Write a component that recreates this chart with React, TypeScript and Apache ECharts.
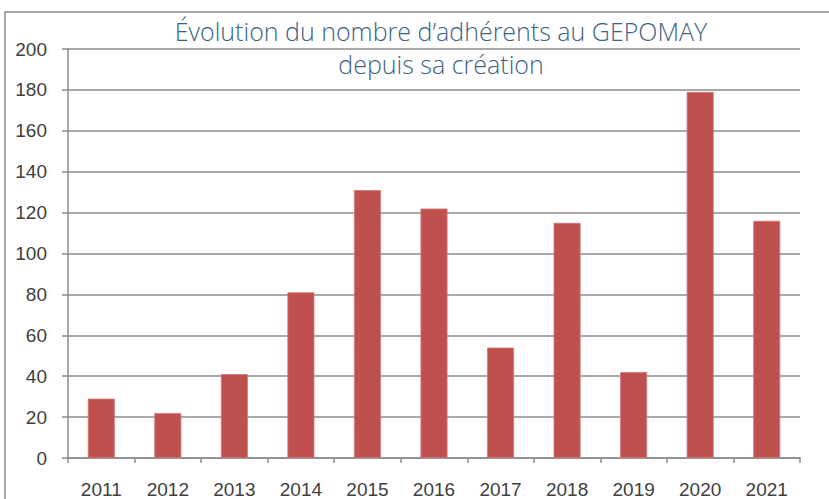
import React, { useEffect, useRef } from "react";
import * as echarts from "echarts";

const categories = ["2011", "2012", "2013", "2014", "2015", "2016", "2017", "2018", "2019", "2020", "2021"];
const adherents = [29, 22, 41, 81, 131, 122, 54, 115, 42, 179, 116];
const titleLine1 = "Évolution du nombre d’adhérents au GEPOMAY";
const titleLine2 = "depuis sa création";

export default function App() {
  const ref = useRef<HTMLDivElement>(null);
  useEffect(() => {
    document.body.style.margin = "0";
    const chart = echarts.init(ref.current!, null, { renderer: "svg" });
    const labelFont = { fontFamily: "Liberation Sans", fontSize: 19, color: "#404040" };
    const titleStyle = {
      fontFamily: "Open Sans",
      fontWeight: 300,
      fontSize: 25,
      color: "#3d6384",
    };
    chart.setOption({
      animation: false,
      backgroundColor: "#ffffff",
      title: [
        { text: titleLine1, left: 441, top: 18, textAlign: "center", padding: 0, textStyle: titleStyle },
        { text: titleLine2, left: 441, top: 51, textAlign: "center", padding: 0, textStyle: titleStyle },
      ],
      graphic: [
        {
          type: "rect",
          shape: { x: 5, y: 12, width: 900, height: 600 },
          style: { fill: "none", stroke: "#8c8c8c", lineWidth: 1.5 },
          silent: true,
          z: -1,
        },
      ],
      grid: { left: 68, right: 29, top: 49, bottom: 37 },
      xAxis: {
        type: "category",
        data: categories,
        axisLine: { show: true, lineStyle: { color: "#8c8c8c", width: 1.5 } },
        axisTick: { show: true, length: 5, lineStyle: { color: "#8c8c8c", width: 1.5 } },
        axisLabel: { ...labelFont, margin: 22 },
      },
      yAxis: {
        type: "value",
        min: 0,
        max: 200,
        interval: 20,
        axisLine: { show: true, lineStyle: { color: "#8c8c8c", width: 1.5 } },
        axisTick: { show: true, length: 6, lineStyle: { color: "#8c8c8c", width: 1.5 } },
        axisLabel: { ...labelFont, margin: 21 },
        splitLine: { show: true, lineStyle: { color: "#8c8c8c", width: 1.5 } },
      },
      series: [
        {
          type: "bar",
          data: adherents,
          barWidth: 27,
          itemStyle: { color: "#c0504d", borderColor: "#d07a78", borderWidth: 0.8 },
        },
      ],
    });
    return () => chart.dispose();
  }, []);
  return <div ref={ref} style={{ width: 829, height: 499 }} />;
}
